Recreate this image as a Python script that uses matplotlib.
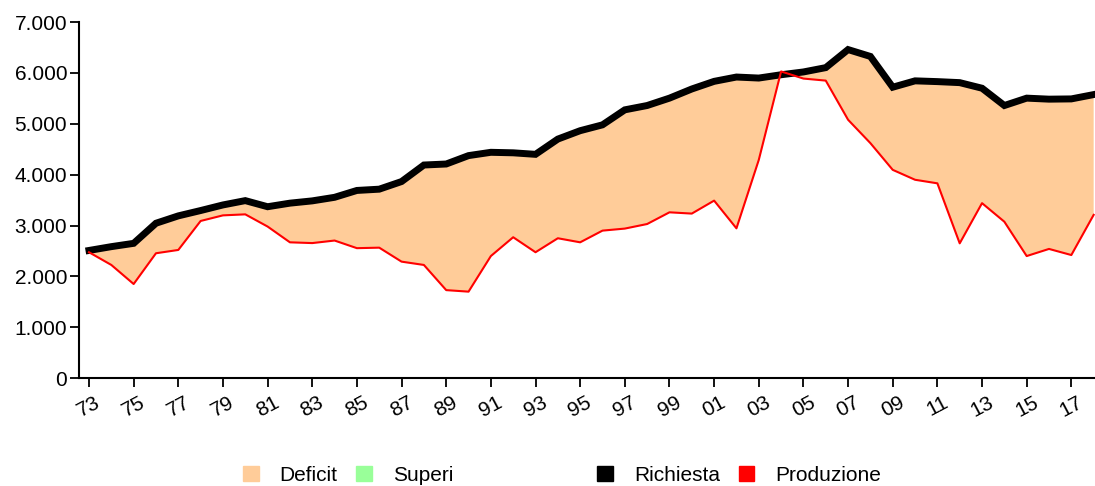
import numpy as np
import matplotlib
matplotlib.use("Agg")
import matplotlib.pyplot as plt
import matplotlib.transforms as mtrans
from matplotlib.patches import Patch

plt.rcParams['font.family'] = ['Liberation Sans', 'DejaVu Sans']

anni = list(range(1973, 2019))
richiesta = [2510, 2585, 2650, 3045, 3190, 3295, 3405, 3490, 3370, 3440,
             3485, 3555, 3690, 3715, 3865, 4190, 4210, 4375, 4440, 4430,
             4400, 4700, 4865, 4980, 5275, 5360, 5505, 5685, 5835, 5920,
             5900, 5965, 6020, 6105, 6460, 6325, 5720, 5845, 5830, 5810,
             5700, 5360, 5505, 5485, 5490, 5575]
produzione = [2475, 2225, 1850, 2455, 2520, 3090, 3200, 3220, 2980, 2670,
              2655, 2705, 2555, 2565, 2290, 2225, 1730, 1700, 2400, 2770,
              2475, 2750, 2670, 2900, 2940, 3030, 3260, 3235, 3490, 2945,
              4290, 6030, 5890, 5850, 5080, 4620, 4095, 3900, 3830, 2650,
              3440, 3075, 2400, 2540, 2420, 3210]
tick_anni = list(range(1973, 2018, 2))
tick_label = [f"{a % 100:02d}" for a in tick_anni]

c_deficit = '#FFCC99'
c_superi = '#99FF99'

x = np.array(anni)
r = np.array(richiesta)
p = np.array(produzione)

fig = plt.figure(figsize=(10.95, 4.86), dpi=100)
ax = fig.add_axes([0.0721, 0.222, 0.9279, 0.7325])

ax.fill_between(x, p, r, where=r >= p, interpolate=True, color=c_deficit, lw=0, zorder=1)
ax.fill_between(x, p, r, where=p > r, interpolate=True, color=c_superi, lw=0, zorder=1)
ax.plot(x, r, color='black', lw=5, zorder=3, solid_joinstyle='miter')
ax.plot(x, p, color='red', lw=1.5, zorder=4)

ax.set_xlim(1972.55, 2018.06)
ax.set_ylim(0, 7000)
ax.set_yticks(range(0, 7001, 1000))
ax.set_yticklabels([f"{v:,}".replace(',', '.') for v in range(0, 7001, 1000)])
ax.set_xticks(tick_anni)
ax.set_xticklabels(tick_label, rotation=28, ha='center')
shift = mtrans.ScaledTranslation(-4 / 100, 0, fig.dpi_scale_trans)
for lab in ax.get_xticklabels():
    lab.set_transform(lab.get_transform() + shift)

for s in ['top', 'right']:
    ax.spines[s].set_visible(False)
for s in ['left', 'bottom']:
    ax.spines[s].set_linewidth(1.5)
ax.tick_params(axis='both', labelsize=15, length=6.5, width=1.3, direction='out')
ax.tick_params(axis='y', pad=2)
ax.tick_params(axis='x', pad=4)

leg_kw = dict(frameon=False, fontsize=15, handlelength=0.75, handleheight=0.75,
              handletextpad=1.0, columnspacing=0.9, ncol=2,
              loc='center', borderpad=0, borderaxespad=0)
leg1 = fig.legend([Patch(color=c_deficit), Patch(color=c_superi)],
                  ['Deficit', 'Superi'], bbox_to_anchor=(0.318, 0.022), **leg_kw)
leg2 = fig.legend([Patch(color='black'), Patch(color='red')],
                  ['Richiesta', 'Produzione'], bbox_to_anchor=(0.675, 0.022), **leg_kw)

fig.savefig('out.png', dpi=100)
